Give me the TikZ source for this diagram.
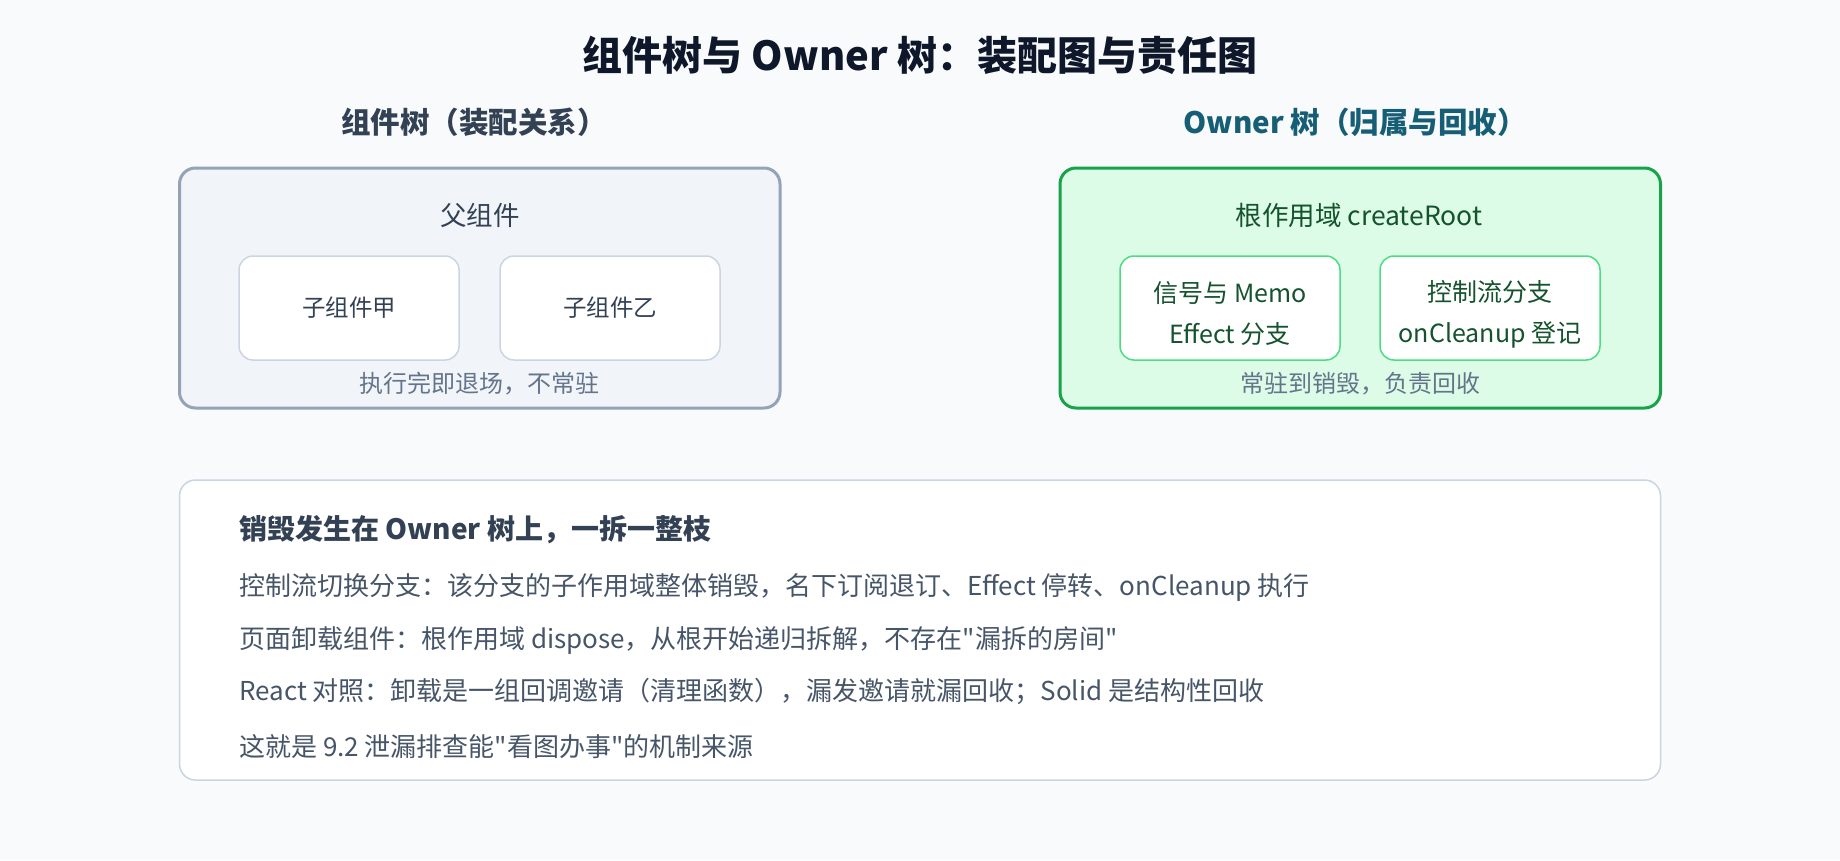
\documentclass[tikz,border=0pt]{standalone}
\usepackage{fontspec}
\setmainfont{Noto Sans CJK SC}[Ligatures=TeXOff]
\definecolor{bg}{HTML}{F8FAFC}
\definecolor{titlec}{HTML}{0F172A}
\definecolor{slate}{HTML}{334155}
\definecolor{teal}{HTML}{155E75}
\definecolor{greyline}{HTML}{94A3B8}
\definecolor{greyfill}{HTML}{F1F5F9}
\definecolor{lightline}{HTML}{CBD5E1}
\definecolor{greennote}{HTML}{64748B}
\definecolor{gfill}{HTML}{DCFCE7}
\definecolor{gline}{HTML}{16A34A}
\definecolor{glight}{HTML}{4ADE80}
\definecolor{gtext}{HTML}{14532D}
\definecolor{body}{HTML}{475569}
\tikzset{
  panelbox/.style={draw, rounded corners=16pt, line width=3pt, minimum width=600.5pt, minimum height=240pt, inner sep=0pt},
  childbox/.style={draw=lightline, fill=white, rounded corners=14pt, line width=1.5pt, minimum width=220pt, minimum height=104pt, inner sep=0pt},
  gchildbox/.style={draw=glight, fill=white, rounded corners=14pt, line width=1.5pt, minimum width=220pt, minimum height=104pt, inner sep=0pt},
  headtxt/.style={inner sep=0pt, font=\fontsize{26.5}{30}\selectfont},
  txt/.style={inner sep=0pt, font=\fontsize{23.5}{28}\selectfont},
  twoline/.style={inner sep=0pt, align=center, font=\fontsize{25}{41}\selectfont},
  note/.style={inner sep=0pt, text=greennote, font=\fontsize{24}{28}\selectfont},
  line/.style={inner sep=0pt, anchor=west, text=body, font=\fontsize{26}{30}\selectfont},
}
\begin{document}
\begin{tikzpicture}[x=1pt,y=-1pt]
\fill[bg] (0,0) rectangle (1840,860);
\useasboundingbox (0,0) rectangle (1840,860);

\node[inner sep=0pt, text=titlec, font=\fontsize{40}{48}\selectfont\bfseries] (title) at (920,55) {组件树与 Owner 树：装配图与责任图};

\node[inner sep=0pt, text=slate, font=\fontsize{29.5}{33}\selectfont\bfseries] (subl) at (474,122) {组件树（装配关系）};
\node[inner sep=0pt, text=teal, font=\fontsize{29.5}{33}\selectfont\bfseries] (subr) at (1355,122) {Owner 树（归属与回收）};

% left panel
\node[panelbox, draw=greyline, fill=greyfill] (lpanel) at (479.75,288) {};
\node[headtxt, text=slate] (parent) at (479.75,215) {父组件};
\node[childbox] (childa) at (349,308) {};
\node[txt, text=slate] (childat) at (349,308) {子组件甲};
\node[childbox] (childb) at (610,308) {};
\node[txt, text=slate] (childbt) at (610,308) {子组件乙};
\node[note] (lnote) at (479.75,384) {执行完即退场，不常驻};

% right panel
\node[panelbox, draw=gline, fill=gfill] (rpanel) at (1360.25,288) {};
\node[headtxt, text=gtext] (root) at (1359,215) {根作用域 createRoot};
\node[gchildbox] (ga) at (1230,308) {};
\node[twoline, text=gtext] (gat) at (1230,314) {信号与 Memo\\Effect 分支};
\node[gchildbox] (gb) at (1490,308) {};
\node[twoline, text=gtext] (gbt) at (1490,314) {控制流分支\\onCleanup 登记};
\node[note] (rnote) at (1360.25,384) {常驻到销毁，负责回收};

% bottom panel
\node[draw=lightline, fill=white, rounded corners=16pt, line width=1.5pt, minimum width=1481pt, minimum height=300pt, inner sep=0pt] (bpanel) at (920,630) {};
\node[inner sep=0pt, anchor=west, text=slate, font=\fontsize{28}{32}\selectfont\bfseries] (bhead) at (239,530) {销毁发生在 Owner 树上，一拆一整枝};
\node[line] (l1) at (239,587) {控制流切换分支：该分支的子作用域整体销毁，名下订阅退订、Effect 停转、onCleanup 执行};
\node[line] (l2) at (239,640) {页面卸载组件：根作用域 dispose，从根开始递归拆解，不存在"漏拆的房间"};
\node[line] (l3) at (239,691) {React 对照：卸载是一组回调邀请（清理函数），漏发邀请就漏回收；Solid 是结构性回收};
\node[line] (l4) at (239,747) {这就是 9.2 泄漏排查能"看图办事"的机制来源};
\end{tikzpicture}
\end{document}
